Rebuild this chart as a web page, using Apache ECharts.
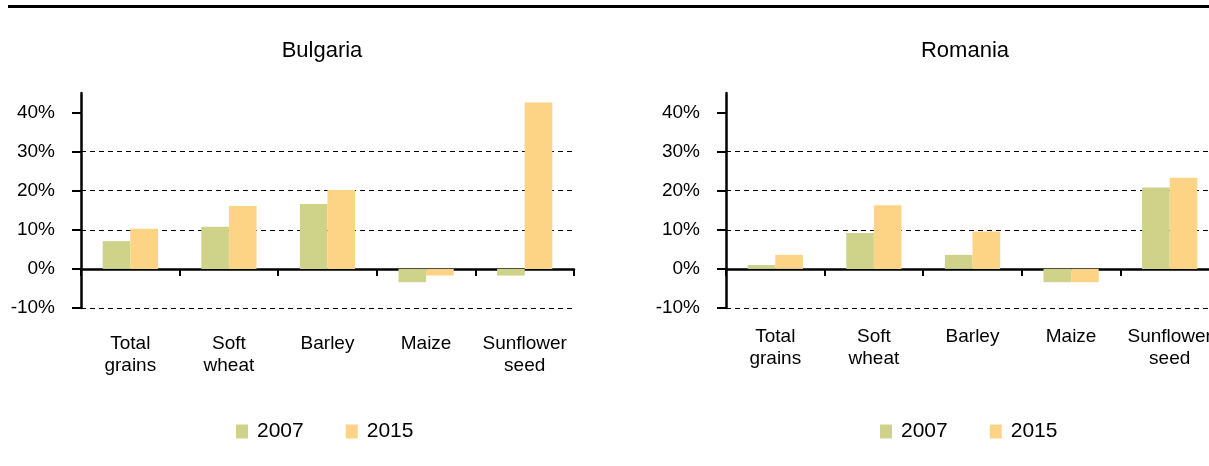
<!DOCTYPE html>
<html lang="en">
<head>
    <meta charset="UTF-8">
    <title>Bulgaria / Romania</title>
    <style>
        * { padding: 0; margin: 0; }
        body { background: #fff; }
    </style>
    <script type="text/javascript" src="https://cdn.jsdelivr.net/npm/echarts@6/dist/echarts.min.js"></script>
</head>
<body>
    <div id="main" style="width: 1209px; height: 466px;"></div>
    <script type="text/javascript">
    var categories = ['Total\ngrains', 'Soft\nwheat', 'Barley', 'Maize', 'Sunflower\nseed'];
    var years = ['2007', '2015'];
    var bulgaria2007 = [7.1, 10.8, 16.6, -3.4, -1.7];
    var bulgaria2015 = [10.3, 16.1, 20.2, -1.7, 42.6];
    var romania2007 = [1.0, 9.2, 3.6, -3.4, 20.8];
    var romania2015 = [3.6, 16.3, 9.6, -3.4, 23.3];
    var yTicks = [-10, 0, 10, 20, 30, 40];

    // no narrow font in the sandbox, sizes picked to match text widths
    var font = "'Liberation Sans Narrow', 'Arial Narrow', 'Liberation Sans', sans-serif";
    var green = '#cfd389';
    var orange = '#fdd385';

    var myChart = echarts.init(document.getElementById('main'));

    function xAxis(grid, margin) {
        return {
            type: 'category',
            gridIndex: grid,
            data: categories,
            axisLine: { onZero: true, lineStyle: { color: '#000', width: 2.5 } },
            axisTick: { show: true, length: 7, lineStyle: { color: '#000', width: 2 } },
            axisLabel: {
                interval: 0, margin: margin, color: '#000',
                fontFamily: font, fontSize: 19, lineHeight: 22
            }
        };
    }

    function yAxis(grid) {
        return {
            type: 'value',
            gridIndex: grid,
            min: -10,
            max: 45,
            interval: 10,
            axisLine: { show: true, lineStyle: { color: '#000', width: 2.5 } },
            axisTick: { show: true, length: 9, customValues: yTicks, lineStyle: { color: '#000', width: 2 } },
            axisLabel: {
                customValues: yTicks, margin: 26, color: '#000',
                fontFamily: font, fontSize: 19,
                formatter: '{value}%'
            },
            splitLine: {
                show: true, showMinLine: true, showMaxLine: false,
                lineStyle: { color: '#000', width: 1, type: [5, 4] }
            }
        };
    }

    function bars(name, values, idx, color) {
        return {
            name: name,
            type: 'bar',
            xAxisIndex: idx,
            yAxisIndex: idx,
            data: values,
            barWidth: '28%',
            barGap: '0%',
            itemStyle: { color: color }
        };
    }

    function legend(x) {
        return {
            data: years, left: x, top: 421, padding: 0,
            itemWidth: 12, itemHeight: 14, itemGap: 42, icon: 'rect',
            textStyle: { fontFamily: font, fontSize: 21, color: '#000', padding: [0, 0, 0, 4] }
        };
    }

    var titleStyle = { fontFamily: font, fontSize: 22, fontWeight: 'normal', color: '#000' };

    var option = {
        animation: false,
        textStyle: { fontFamily: font },
        title: [
            { text: 'Bulgaria', left: 322, top: 40, textAlign: 'center', padding: 0, textStyle: titleStyle },
            { text: 'Romania', left: 965, top: 40, textAlign: 'center', padding: 0, textStyle: titleStyle }
        ],
        legend: [legend(236), legend(880)],
        grid: [
            { left: 81, width: 493, top: 93, height: 215, outerBoundsMode: 'none' },
            { left: 726, width: 493, top: 93, height: 215, outerBoundsMode: 'none' }
        ],
        xAxis: [xAxis(0, 25), xAxis(1, 18)],
        yAxis: [yAxis(0), yAxis(1)],
        series: [
            bars(years[0], bulgaria2007, 0, green),
            bars(years[1], bulgaria2015, 0, orange),
            bars(years[0], romania2007, 1, green),
            bars(years[1], romania2015, 1, orange)
        ],
        graphic: [
            { type: 'rect', shape: { x: 8, y: 5, width: 1201, height: 3 }, style: { fill: '#000' } }
        ]
    };

    myChart.setOption(option);
    </script>
</body>
</html>
